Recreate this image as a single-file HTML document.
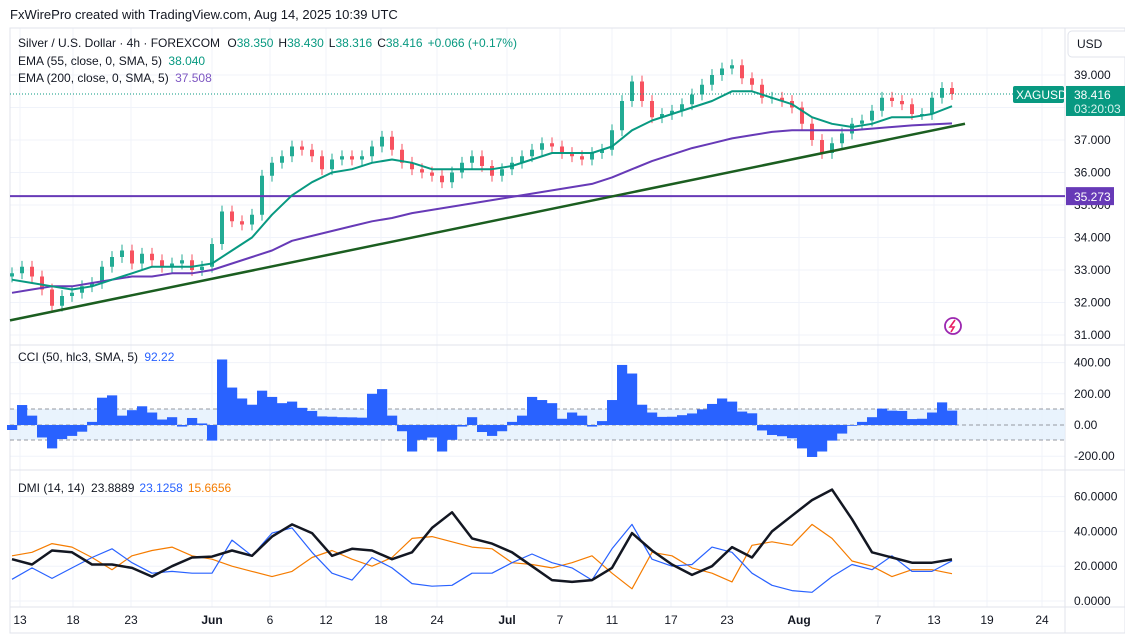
<!DOCTYPE html>
<html><head><meta charset="utf-8"><style>
html,body{margin:0;padding:0;background:#fff;}
svg{display:block;font-family:"Liberation Sans",sans-serif;}
</style></head><body>
<svg id="chart" width="1125" height="639" viewBox="0 0 1125 639" xmlns="http://www.w3.org/2000/svg">
<rect x="0" y="0" width="1125" height="639" fill="#fff"/>
<text x="10" y="19" font-size="13" fill="#131722">FxWirePro created with TradingView.com, Aug 14, 2025 10:39 UTC</text>
<g id="grid"></g>
<rect x="10" y="28" width="1115" height="605" fill="none" stroke="#e0e3eb"/>
<line x1="10" y1="345" x2="1125" y2="345" stroke="#e0e3eb"/>
<line x1="10" y1="470" x2="1125" y2="470" stroke="#e0e3eb"/>
<line x1="10" y1="607" x2="1125" y2="607" stroke="#e0e3eb"/>
<line x1="1065" y1="28" x2="1065" y2="633" stroke="#e0e3eb"/>
<rect x="10" y="409" width="1055" height="31" fill="#e3f0fd" opacity="0.8"/>
<line x1="10" y1="409" x2="1065" y2="409" stroke="#9598a1" stroke-dasharray="4,3"/>
<line x1="10" y1="425" x2="1065" y2="425" stroke="#9598a1" stroke-dasharray="4,3"/>
<line x1="10" y1="440" x2="1065" y2="440" stroke="#9598a1" stroke-dasharray="4,3"/>
<g id="cci"></g>
<g id="candles"></g>
<g id="lines"></g>
<g id="axes"></g>
<g font-size="12">
<text x="18" y="47" fill="#131722">Silver / U.S. Dollar · 4h · FOREXCOM <tspan dx="4">O</tspan><tspan fill="#089981">38.350</tspan><tspan dx="5">H</tspan><tspan fill="#089981">38.430</tspan><tspan dx="5">L</tspan><tspan fill="#089981">38.316</tspan><tspan dx="5">C</tspan><tspan fill="#089981">38.416</tspan><tspan dx="5" fill="#089981">+0.066 (+0.17%)</tspan></text>
<text x="18" y="65" fill="#131722">EMA (55, close, 0, SMA, 5) <tspan dx="3" fill="#089981">38.040</tspan></text>
<text x="18" y="82" fill="#131722">EMA (200, close, 0, SMA, 5) <tspan dx="3" fill="#7e57c2">37.508</tspan></text>
</g>
<text x="18" y="361" font-size="12" fill="#131722">CCI (50, hlc3, SMA, 5) <tspan dx="3" fill="#2962ff">92.22</tspan></text>
<text x="18" y="492" font-size="12" fill="#131722">DMI (14, 14) <tspan dx="3">23.8889</tspan><tspan dx="5" fill="#2962ff">23.1258</tspan><tspan dx="5" fill="#f57c00">15.6656</tspan></text>
<rect x="1068" y="31" width="60" height="26" rx="4" fill="#fff" stroke="#e0e3eb"/>
<text x="1077" y="48" font-size="12" fill="#131722">USD</text>
<g>
<circle cx="953" cy="326" r="8" fill="none" stroke="#9c27b0" stroke-width="1.8"/>
<path d="M955 320 L950 327 L954 327 L951 332" stroke="#e91e63" stroke-width="1.6" fill="none"/>
</g>
<script>
const closes = [32.9,33.1,32.8,32.4,31.9,32.2,32.3,32.5,32.6,33.1,
33.4,33.6,33.2,33.5,33.3,33.1,33.2,33.3,33.0,33.1,
33.8,34.8,34.5,34.4,34.7,35.9,36.3,36.5,36.8,36.7,
36.5,36.1,36.4,36.5,36.4,36.5,36.8,37.1,36.7,36.3,
36.1,36.0,35.9,35.7,36.0,36.3,36.5,36.2,35.9,36.1,
36.3,36.5,36.7,36.9,36.8,36.6,36.5,36.4,36.6,36.7,
37.3,38.2,38.8,38.2,37.7,37.8,37.9,38.1,38.4,38.7,
39.0,39.2,39.3,38.9,38.7,38.3,38.3,38.2,38.0,37.5,
37.0,36.6,36.9,37.2,37.5,37.6,37.9,38.3,38.2,38.1,
37.8,37.8,38.3,38.6,38.416];
const ema55 = [32.7,32.6,32.5,32.4,32.5,32.7,32.9,33.1,33.1,33.1,
33.2,33.6,34.0,34.7,35.3,35.7,36.0,36.1,36.3,36.4,
36.3,36.1,36.1,36.1,36.1,36.2,36.4,36.6,36.6,36.6,
36.8,37.3,37.6,37.8,38.0,38.2,38.5,38.5,38.3,38.1,
37.7,37.5,37.4,37.5,37.7,37.7,37.8,38.04];
const ema200 = [32.3,32.4,32.5,32.5,32.6,32.7,32.8,32.8,32.9,32.9,
33.0,33.2,33.4,33.6,33.9,34.05,34.2,34.35,34.5,34.6,
34.75,34.85,34.95,35.05,35.15,35.25,35.35,35.45,35.55,35.65,
35.85,36.1,36.35,36.55,36.75,36.9,37.05,37.15,37.25,37.3,
37.3,37.3,37.3,37.35,37.4,37.45,37.48,37.51];
const cciValues = [-32,128,60,-80,-150,-90,-70,-43,20,175,
190,60,95,120,80,35,50,-10,45,10,
-100,420,240,170,130,220,180,140,150,110,
90,55,53,50,49,47,200,230,60,-40,
-170,-95,-80,-170,-95,-10,50,-45,-70,-40,
20,60,180,160,140,40,80,60,-10,25,
160,385,330,130,80,52,53,63,74,100,
135,170,150,86,75,-35,-64,-72,-85,-150,
-205,-170,-100,-55,-5,20,50,105,92,90,
38,40,80,145,92.22];
const adx = [24,21,29,28,21,21,19,14,20,25,25.5,29,26,37,44,39,26,30,29,24,28,42,51,36,33,28,20,12,11,12,19,39,29,21,15,20,31,25,40,49,58,64,47,28,25,22,22,23.9];
const plusDI = [12.5,19,13,19,25,30,22,16,17,16,16,35,26,39,42,28,16,12,25,19,10,8.5,9,16,16,22,27,22,19,12,30,44,24,20,21,31,28,16,9,6,5,14,21,18,26,17,17,23.1];
const minusDI = [26,28,33,31,25,18,26,29,31,26,24,20,17,14,17,25,29,24,20,25,36,37,34,31,30,22,21,19,22,26,16,7,28,26,19,16,11,32,34,32,44,36,23,20,14,18,18,15.7];
const priceTicks = [31,32,33,34,35,36,37,38,39];
const cciTicks = [-200,0,200,400];
const dmiTicks = [0,20,40,60];
const dateLabels = ["13","18","23","Jun","6","12","18","24","Jul","7","11","17","23","Aug","7","13","19","24"];
const dateBars = [0.8,6.1,11.9,20,25.8,31.4,36.9,42.5,49.5,54.8,60,65.9,71.5,78.7,86.6,92.2,97.5,103];
const hLevel = 35.273;
const trendStart = 31.45, trendEnd = 37.5;

const NS="http://www.w3.org/2000/svg";
const xBar = i => 12 + i*10;
const xHalf = i => 12 + i*20;
const yPrice = p => 75 + (39-p)*32.5;
const yCCI = v => 425 - v*0.156;
const yDMI = v => 601 - v*1.74;
function mk(tag, attrs, parent){const e=document.createElementNS(NS,tag);for(const k in attrs)e.setAttribute(k,attrs[k]);parent.appendChild(e);return e;}
const grid=document.getElementById('grid'), axes=document.getElementById('axes');
dateBars.forEach((b,i)=>{
  const x=xBar(b);
  const l=mk('line',{x1:x,y1:28,x2:x,y2:607,stroke:'#f0f3fa'},grid);
  
  
  const bold=(dateLabels[i]==='Jun'||dateLabels[i]==='Jul'||dateLabels[i]==='Aug');
  const t=mk('text',{x:x,y:624,'font-size':12,'text-anchor':'middle',fill:'#131722','font-weight':bold?'bold':'normal'},axes);
  t.textContent=dateLabels[i];
  
  
});
priceTicks.forEach(p=>{
  const y=yPrice(p);
  const l=mk('line',{x1:10,y1:y,x2:1065,y2:y,stroke:'#f0f3fa'},grid);
  
  
  const t=mk('text',{x:1074,y:y+4,'font-size':12,fill:'#131722'},axes);
  t.textContent=p.toFixed(3);
  
  
});
cciTicks.forEach(v=>{
  const y=yCCI(v);
  const l=mk('line',{x1:10,y1:y,x2:1065,y2:y,stroke:'#f0f3fa'},grid);
  
  
  const t=mk('text',{x:1074,y:y+4,'font-size':12,fill:'#131722'},axes);
  t.textContent=v.toFixed(2);
  
  
});
dmiTicks.forEach(v=>{
  const y=yDMI(v);
  const l=mk('line',{x1:10,y1:y,x2:1065,y2:y,stroke:'#f0f3fa'},grid);
  
  
  const t=mk('text',{x:1074,y:y+4,'font-size':12,fill:'#131722'},axes);
  t.textContent=v.toFixed(4);
  
  
});

const cg=document.getElementById('cci');
cciValues.forEach((v,i)=>{
  const y0=yCCI(0), y1=yCCI(v);
  const r=mk('rect',{x:xBar(i)-5,y:Math.min(y0,y1),width:10.2,height:Math.max(0.5,Math.abs(y1-y0)),fill:'#2962ff'},cg);
  
  
});

const kg=document.getElementById('candles');
closes.forEach((c,i)=>{
  const o = i===0 ? c-0.1 : closes[i-1];
  const hi=Math.max(o,c)+0.18, lo=Math.min(o,c)-0.18;
  const col = c>=o ? '#22ab94' : '#f7525f';
  const x=xBar(i);
  const w=mk('line',{x1:x,y1:yPrice(hi),x2:x,y2:yPrice(lo),stroke:col,'stroke-width':1},kg);
  
  
  const b=mk('rect',{x:x-2,y:yPrice(Math.max(o,c)),width:4,height:Math.max(1,Math.abs(yPrice(o)-yPrice(c))),fill:col},kg);
  
  
});

const lg=document.getElementById('lines');
function poly(arr,xf,yf,col,w,name){
  const p=mk('polyline',{points:arr.map((v,i)=>xf(i).toFixed(1)+','+yf(v).toFixed(1)).join(' '),fill:'none',stroke:col,'stroke-width':w,'stroke-linejoin':'round'},lg);
  
  
}
const hl=mk('line',{x1:10,y1:yPrice(hLevel),x2:1065,y2:yPrice(hLevel),stroke:'#673ab7','stroke-width':2},lg);


const tl=mk('line',{x1:10,y1:yPrice(trendStart),x2:965,y2:yPrice(trendEnd),stroke:'#1b5e20','stroke-width':2.5},lg);


poly(ema200,xHalf,yPrice,'#673ab7',2,'ema200-line');
poly(ema55,xHalf,yPrice,'#089981',2,'ema55-line');
poly(minusDI,xHalf,yDMI,'#f57c00',1.2,'minus-di-line');
poly(plusDI,xHalf,yDMI,'#2962ff',1.2,'plus-di-line');
poly(adx,xHalf,yDMI,'#131722',2.5,'adx-line');
const last=closes[closes.length-1];
const dl=mk('line',{x1:10,y1:yPrice(last),x2:1065,y2:yPrice(last),stroke:'#089981','stroke-dasharray':'1,2'},lg);



const yl=yPrice(last);
let e=mk('rect',{x:1013,y:yl-8,width:51,height:17,rx:2,fill:'#089981'},axes);


e=mk('text',{x:1016,y:yl+5,'font-size':12,fill:'#fff'},axes); e.textContent='XAGUSD';


e=mk('rect',{x:1066,y:yl-8,width:59,height:30,fill:'#089981'},axes);


e=mk('text',{x:1074,y:yl+5,'font-size':12,fill:'#fff'},axes); e.textContent=last.toFixed(3);


e=mk('text',{x:1074,y:yl+19,'font-size':12,fill:'#d7f3ee'},axes); e.textContent='03:20:03';


const yh=yPrice(hLevel);
e=mk('rect',{x:1066,y:yh-9,width:48,height:18,fill:'#673ab7'},axes);


e=mk('text',{x:1074,y:yh+5,'font-size':12,fill:'#fff'},axes); e.textContent=hLevel.toFixed(3);


</script>
</svg>
</body></html>
